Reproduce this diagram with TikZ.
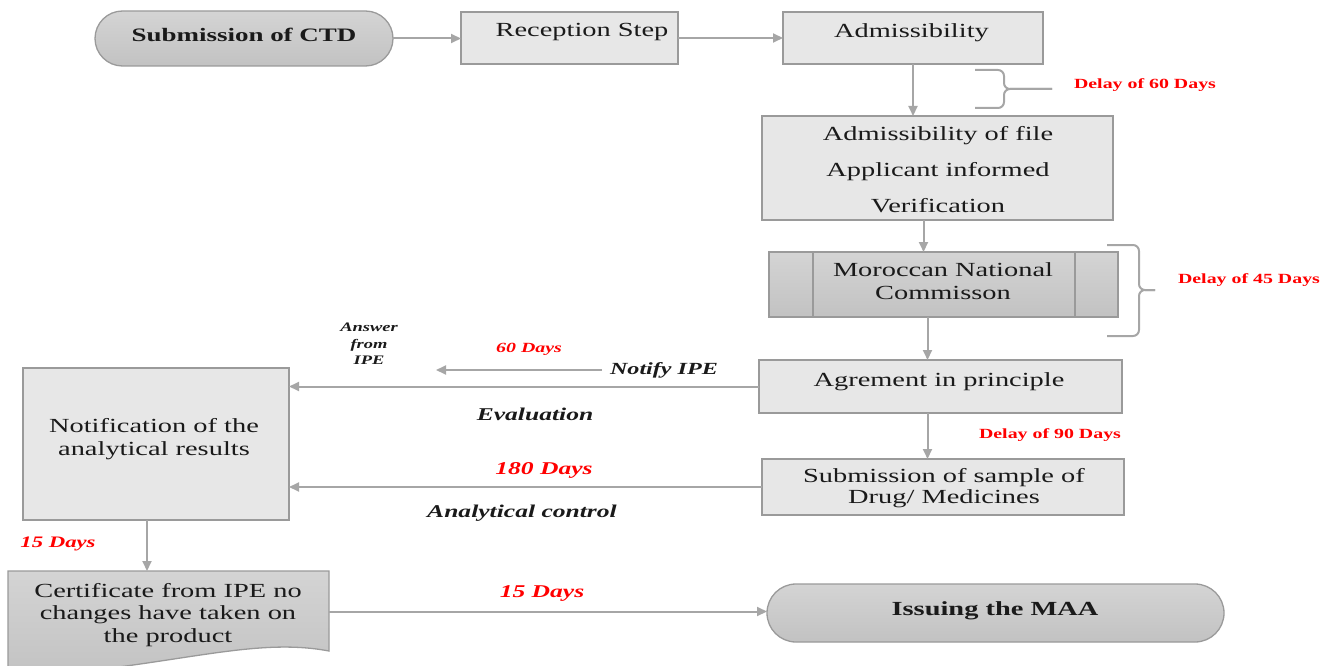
\documentclass[tikz,border=0pt]{standalone}
\usepackage{fontspec}
\setmainfont{Liberation Serif}[FakeStretch=1.42]
\usetikzlibrary{arrows.meta,calc}
\definecolor{linegray}{HTML}{A6A6A6}
\definecolor{boxborder}{HTML}{9A9A9A}
\definecolor{boxfill}{HTML}{E7E7E7}
\definecolor{shtop}{HTML}{D4D4D4}
\definecolor{shbot}{HTML}{C2C2C2}
\definecolor{redlab}{HTML}{FF0000}
\definecolor{ink}{HTML}{1A1A1A}
\begin{document}
\begin{tikzpicture}[x=1pt,y=-1pt,
  every node/.style={inner sep=0pt, outer sep=0pt},
  box/.style={draw=boxborder, fill=boxfill, line width=1.3pt, rectangle},
  shadedbox/.style={draw=boxborder, line width=1.3pt, top color=shtop, bottom color=shbot},
  arr/.style={draw=linegray, line width=2pt, -{Triangle[length=10pt,width=9pt]}},
  bracepath/.style={draw=linegray, line width=2pt, rounded corners=6pt},
  txt/.style={font=\fontsize{20}{23}\selectfont, align=center, text=ink},
  btxt/.style={font=\fontsize{19}{22}\selectfont\bfseries, align=center, text=ink},
  redlbl/.style={font=\fontsize{14}{16}\selectfont\bfseries, text=redlab},
  redit/.style={font=\fontsize{#1}{#1}\selectfont\bfseries\itshape, text=redlab},
  blkit/.style={font=\fontsize{#1}{#1}\selectfont\bfseries\itshape, text=ink, align=center}
]
\useasboundingbox (0,0) rectangle (1336,666);

% boxes
\node[shadedbox, rounded corners=27.5pt, minimum width=298pt, minimum height=55pt] (ctd) at (244,38.5) {};
\node[box, minimum width=217pt, minimum height=52pt] (rec) at (569.5,38) {};
\node[box, minimum width=260pt, minimum height=52pt] (adm) at (913,38) {};
\node[box, minimum width=351pt, minimum height=104pt] (admf) at (937.5,168) {};
\node[shadedbox, minimum width=349pt, minimum height=65pt] (mor) at (943.5,284.5) {};
\draw[boxborder, line width=1.3pt] ([xshift=44pt]mor.north west) -- ([xshift=44pt]mor.south west);
\draw[boxborder, line width=1.3pt] ([xshift=-43pt]mor.north east) -- ([xshift=-43pt]mor.south east);
\node[box, minimum width=363pt, minimum height=53pt] (agr) at (940.5,386.5) {};
\node[box, minimum width=362pt, minimum height=56pt] (samp) at (943,487) {};
\node[box, minimum width=266pt, minimum height=152pt] (notif) at (156,444) {};
\node[minimum width=321pt, minimum height=81pt] (cert) at (168.5,611.5) {};
\begin{scope}
\clip (0,0) rectangle (1336,666);
\path[shadedbox] (8,571) -- (329,571) -- (329,651) .. controls (250,636) and (170,668) .. (8,678) -- cycle;
\end{scope}
\node[shadedbox, rounded corners=29pt, minimum width=457pt, minimum height=58pt] (maa) at (995.5,613) {};

% texts in boxes
\node[btxt] (tctd) at (244,34.5) {Submission of CTD};
\node[txt] (trec) at (582,32.5) {Reception Step};
\node[txt] (tadm) at (911.5,32.5) {Admissibility};
\node[txt, font=\fontsize{20}{36}\selectfont] (tadmf) at (938,169.5) {Admissibility of file\\Applicant informed\\Verification};
\node[txt] (tmor) at (943,281) {Moroccan National\\Commisson};
\node[txt] (tagr) at (939,381.5) {Agrement in principle};
\node[txt, font=\fontsize{20}{21}\selectfont] (tsamp) at (944,488) {Submission of sample of\\Drug/ Medicines};
\node[txt] (tnotif) at (154,439) {Notification of the\\analytical results};
\node[txt, font=\fontsize{20}{22.5}\selectfont] (tcert) at (168,615) {Certificate from IPE no\\changes have taken on\\the product};
\node[btxt, font=\fontsize{20}{22}\selectfont\bfseries] (tmaa) at (995,610.5) {Issuing the MAA};

% labels
\node[redlbl] (d60) at (1145,85) {Delay of 60 Days};
\node[redlbl] (d45) at (1249,280) {Delay of 45 Days};
\node[redlbl] (d90) at (1050,435) {Delay of 90 Days};
\node[redit=14] (l60) at (529,349) {60 Days};
\node[redit=18] (l180) at (544,470) {180 Days};
\node[redit=16] (l15a) at (58,544) {15 Days};
\node[redit=18] (l15b) at (542,593) {15 Days};
\node[blkit=17] (notify) at (664,370) {Notify IPE};
\node[blkit=18] (evalu) at (535,414) {Evaluation};
\node[blkit=18] (anal) at (522,513) {Analytical control};
\node[blkit=13, font=\fontsize{13}{16.5}\selectfont\bfseries\itshape] (answer) at (369,344) {Answer\\from\\IPE};
\coordinate (ipeend) at (436,370);

% connectors
\draw[arr] (ctd.east) -- (ctd.east -| rec.west);
\draw[arr] (rec.east) -- (adm.west);
\draw[arr] (adm.south) -- (adm.south |- admf.north);
\draw[arr] ([xshift=-20pt]mor.north |- admf.south) -- ([xshift=-20pt]mor.north);
\draw[arr] ([xshift=-16pt]mor.south) -- ([xshift=-16pt]mor.south |- agr.north);
\draw[arr] ([xshift=-13pt]agr.south) -- ([xshift=-13pt]agr.south |- samp.north);
\draw[arr] (agr.west) -- (agr.west -| notif.east);
\draw[arr] (samp.west) -- (samp.west -| notif.east);
\draw[arr] ([xshift=-9pt]notif.south) -- ([xshift=-9pt]notif.south |- cert.north);
\draw[arr] (cert.east) -- (cert.east -| maa.west);
\draw[arr] ([xshift=-8pt]notify.west |- ipeend) -- (ipeend);

% braces
\draw[bracepath] (975,70) -- (1004,70) -- (1004,89) -- (1052,89);
\draw[bracepath] (975,108) -- (1004,108) -- (1004,89) -- (1052,89);
\draw[bracepath] (1107,245) -- (1139,245) -- (1139,290) -- (1155,290);
\draw[bracepath] (1107,336) -- (1139,336) -- (1139,290) -- (1155,290);
\end{tikzpicture}
\end{document}
